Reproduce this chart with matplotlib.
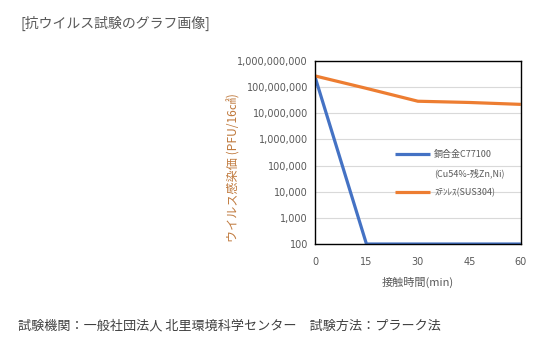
import matplotlib
matplotlib.use('Agg')
import matplotlib.pyplot as plt
from matplotlib.lines import Line2D
from matplotlib.ticker import FixedLocator, FuncFormatter

plt.rcParams['font.family'] = ['Noto Sans CJK JP', 'DejaVu Sans']

# data
minutes = [0, 15, 30, 45, 60]
copper = [2.5e8, 100, 100, 100, 100]
stainless = [2.7e8, 9.0e7, 2.9e7, 2.6e7, 2.2e7]
copper_label = '銅合金C77100'
copper_note = '(Cu54%-残Zn,Ni)'
stainless_label = 'ｽﾃﾝﾚｽ(SUS304)'
y_ticks = [1e2, 1e3, 1e4, 1e5, 1e6, 1e7, 1e8, 1e9]

text_gray = '#595959'

fig = plt.figure(figsize=(5.6, 3.57), dpi=100)
ax = fig.add_axes([0.5625, 0.3165, 0.3675, 0.5125])

l_cu, = ax.plot(minutes, copper, color='#4472C4', lw=2.3, solid_capstyle='butt')
l_ss, = ax.plot(minutes, stainless, color='#ED7D31', lw=2.3, solid_capstyle='butt')

ax.set_yscale('log')
ax.set_ylim(100, 1e9)
ax.set_xlim(0, 60)
ax.set_xticks([0, 15, 30, 45, 60])
ax.yaxis.set_major_locator(FixedLocator(y_ticks))
ax.yaxis.set_minor_locator(FixedLocator([]))
ax.yaxis.set_major_formatter(FuncFormatter(lambda v, p: f'{int(round(v)):,}'))
ax.grid(axis='y', color='#D9D9D9', lw=0.8)
ax.set_axisbelow(True)

for s in ax.spines.values():
    s.set_color('black')
    s.set_linewidth(1.0)

ax.tick_params(length=0, labelsize=7, colors=text_gray)
ax.tick_params(axis='y', pad=5)
ax.tick_params(axis='x', pad=9.5)
for lab in ax.get_xticklabels() + ax.get_yticklabels():
    lab.set_family(['DejaVu Sans'])

ax.set_xlabel('接触時間(min)', fontsize=8, color=text_gray, labelpad=7)
ax.set_ylabel('ウイルス感染価 (PFU/16㎠)', fontsize=8.7, color='#C07A3E')
ax.yaxis.set_label_coords(-0.362, 0.42)

blank = Line2D([], [], color='none')
leg = ax.legend([l_cu, blank, l_ss], [copper_label, copper_note, stainless_label],
                loc='upper left', bbox_to_anchor=(0.388, 0.515), frameon=False,
                fontsize=6.5, handlelength=3.9, handletextpad=0.45, labelspacing=1.1,
                borderaxespad=0, borderpad=0)
for t in leg.get_texts():
    t.set_color(text_gray)

fig.text(0.036, 0.935, '[抗ウイルス試験のグラフ画像]', fontsize=10, color=text_gray, va='center')
fig.text(0.032, 0.088, '試験機関：一般社団法人 北里環境科学センター　試験方法：プラーク法',
         fontsize=9.45, color='#404040', va='center')

fig.savefig('out.png', dpi=100)
